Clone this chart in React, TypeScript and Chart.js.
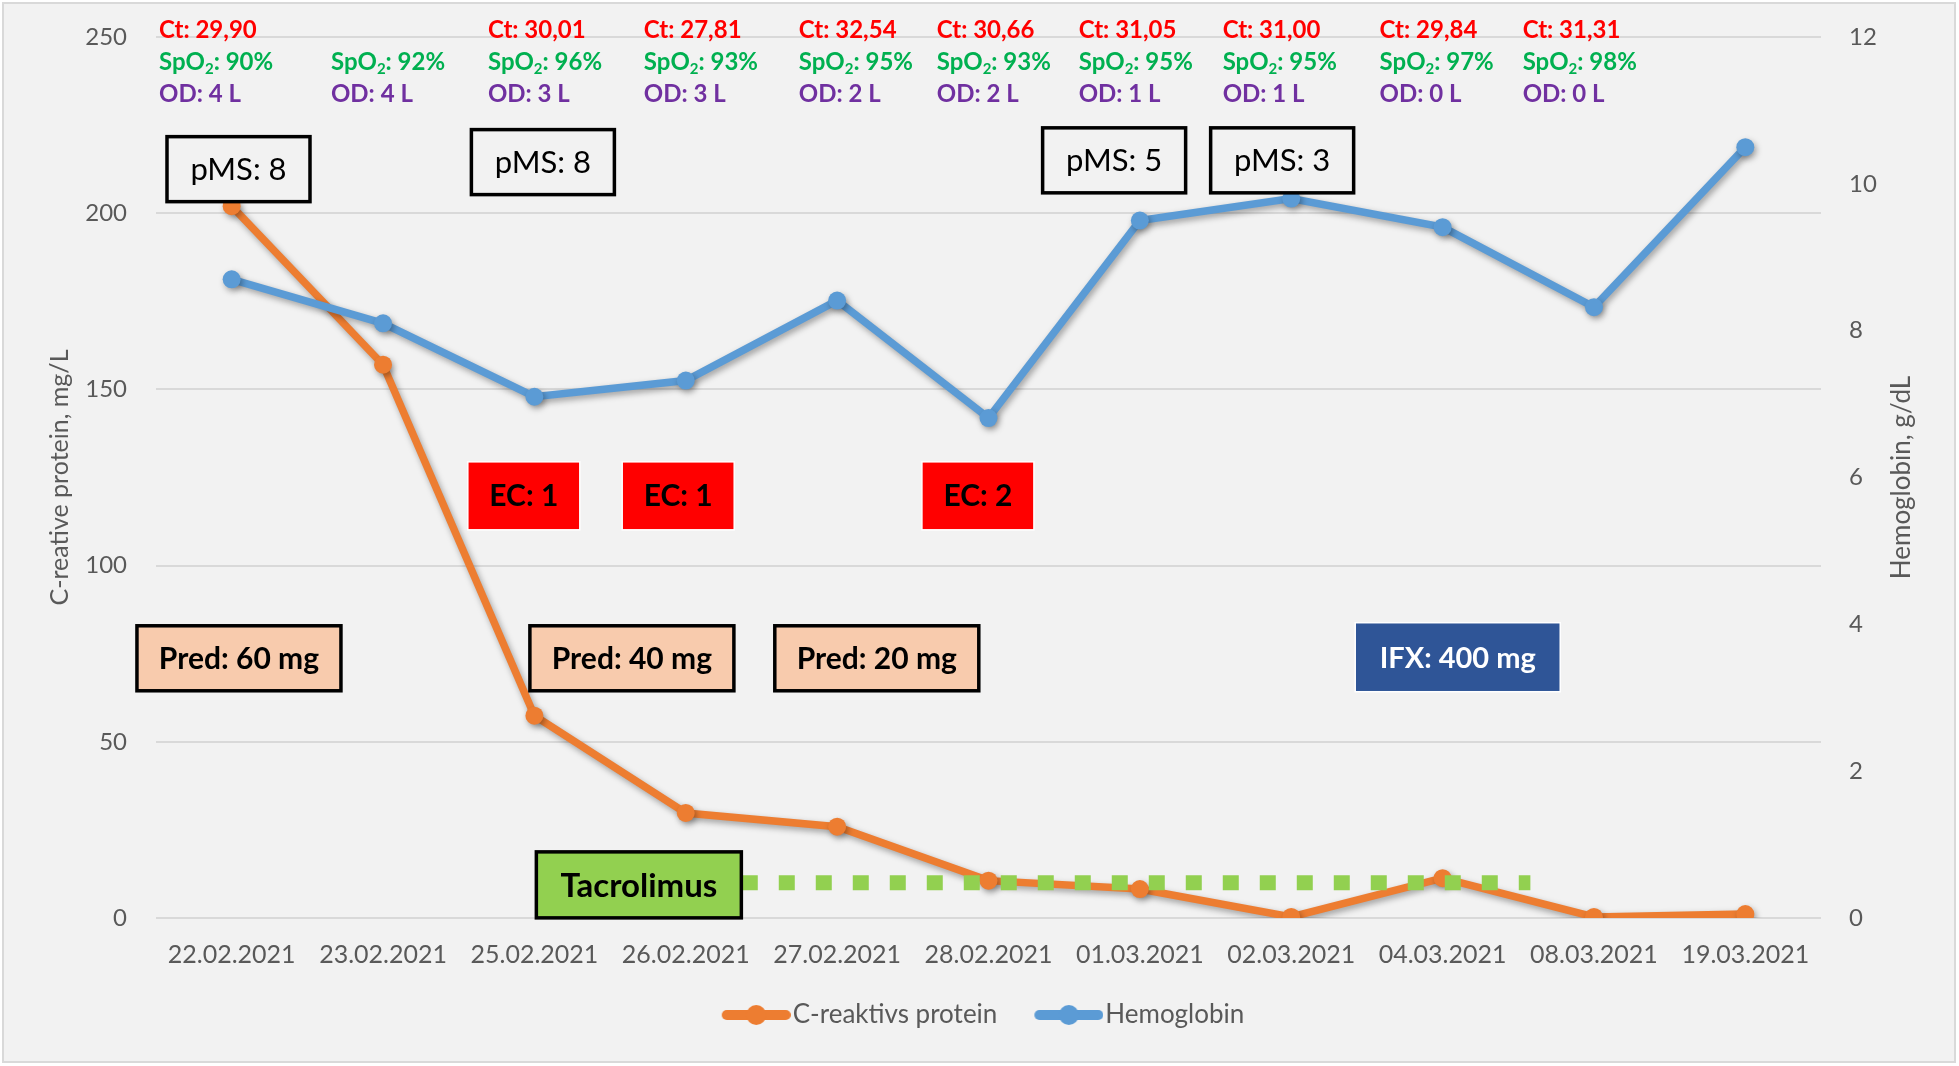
import React, { useEffect, useRef } from 'react';
import { Chart, registerables } from 'chart.js';

Chart.register(...registerables);

// ---------------- data ----------------
const dates = [
  '22.02.2021', '23.02.2021', '25.02.2021', '26.02.2021', '27.02.2021', '28.02.2021',
  '01.03.2021', '02.03.2021', '04.03.2021', '08.03.2021', '19.03.2021',
];
const crpValues = [202, 157, 57.4, 29.8, 25.9, 10.6, 8.2, 0.3, 11.3, 0.3, 1.1];
const hgbValues = [8.7, 8.1, 7.1, 7.32, 8.41, 6.81, 9.5, 9.8, 9.41, 8.32, 10.5];

const ctValues = ['29,90', '', '30,01', '27,81', '32,54', '30,66', '31,05', '31,00', '29,84', '31,31'];
const spo2Values = ['90%', '92%', '96%', '93%', '95%', '93%', '95%', '95%', '97%', '98%'];
const odValues = ['4 L', '4 L', '3 L', '3 L', '2 L', '2 L', '1 L', '1 L', '0 L', '0 L'];

const crpTicks = [0, 50, 100, 150, 200, 250];
const hgbTicks = [0, 2, 4, 6, 8, 10, 12];

// ---------------- annotation placement (category index / CRP units) ----------------
const infoColumnX = [-0.48, 0.656, 1.693, 2.723, 3.747, 4.658, 5.596, 6.547, 7.584, 8.529];

const pmsBoxes = [
  { text: 'pMS: 8', idx: 0.045, val: 212.5 },
  { text: 'pMS: 8', idx: 2.056, val: 214.5 },
  { text: 'pMS: 5', idx: 5.83, val: 215 },
  { text: 'pMS: 3', idx: 6.94, val: 215 },
];
const ecBoxes = [
  { text: 'EC: 1', idx: 1.93, val: 119.8 },
  { text: 'EC: 1', idx: 2.95, val: 119.8 },
  { text: 'EC: 2', idx: 4.93, val: 119.8 },
];
const predBoxes = [
  { text: 'Pred: 60 mg', idx: 0.048, val: 73.7 },
  { text: 'Pred: 40 mg', idx: 2.644, val: 73.7 },
  { text: 'Pred: 20 mg', idx: 4.262, val: 73.7 },
];
const ifxBox = { text: 'IFX: 400 mg', idx: 8.1, val: 74 };
const tacBox = { text: 'Tacrolimus', idx: 2.69, val: 9.4 };
const tacLine = { fromIdx: 3.37, toIdx: 8.58, val: 10 };

const FONT = 'Lato, "Open Sans", "DejaVu Sans", sans-serif';
const AXIS_COLOR = '#595959';
const ORANGE = '#ed7d31';
const BLUE = '#5b9bd5';

// legend swatch: transparent left margin (18px) + 69px line with marker
function makeLegendImg(color: string) {
  const c = document.createElement('canvas');
  c.width = 87;
  c.height = 22;
  const g = c.getContext('2d')!;
  g.strokeStyle = color;
  g.lineWidth = 10;
  g.lineCap = 'round';
  g.beginPath();
  g.moveTo(23, 11);
  g.lineTo(82, 11);
  g.stroke();
  g.fillStyle = color;
  g.beginPath();
  g.arc(52.5, 11, 10, 0, Math.PI * 2);
  g.fill();
  return c;
}

function drawBox(
  ctx: CanvasRenderingContext2D,
  cx: number, cy: number, w: number, h: number,
  fill: string, stroke: string | null, lw: number,
  text: string, font: string, color: string,
) {
  ctx.save();
  ctx.fillStyle = fill;
  ctx.fillRect(cx - w / 2, cy - h / 2, w, h);
  if (stroke) {
    ctx.strokeStyle = stroke;
    ctx.lineWidth = lw;
    ctx.strokeRect(cx - w / 2, cy - h / 2, w, h);
  }
  ctx.fillStyle = color;
  ctx.font = font;
  ctx.textAlign = 'center';
  ctx.textBaseline = 'middle';
  ctx.fillText(text, cx, cy + 1);
  ctx.restore();
}

const bgPlugin = {
  id: 'bgPlugin',
  beforeDraw(chart: any) {
    const { ctx, width, height } = chart;
    ctx.save();
    ctx.fillStyle = '#ffffff';
    ctx.fillRect(0, 0, width, height);
    ctx.fillStyle = '#f2f2f2';
    ctx.fillRect(3, 3, width - 7, height - 7);
    ctx.strokeStyle = '#d9d9d9';
    ctx.lineWidth = 2;
    ctx.strokeRect(3, 3, width - 7, height - 7);
    ctx.restore();
  },
};

const shadowPlugin = {
  id: 'shadowPlugin',
  beforeDatasetDraw(chart: any) {
    const ctx = chart.ctx;
    ctx.save();
    ctx.shadowColor = 'rgba(0,0,0,0.35)';
    ctx.shadowBlur = 6;
    ctx.shadowOffsetX = 2;
    ctx.shadowOffsetY = 3;
  },
  afterDatasetDraw(chart: any) {
    chart.ctx.restore();
  },
};

const annotationPlugin = {
  id: 'annotationPlugin',
  afterDatasetsDraw(chart: any) {
    const { ctx, chartArea } = chart;
    const xs = chart.scales.x;
    const ys = chart.scales.y;
    const px = (i: number) => xs.getPixelForValue(i);
    const py = (v: number) => ys.getPixelForValue(v);

    // right axis title (reads bottom-to-top)
    ctx.save();
    ctx.translate(1902, (chartArea.top + chartArea.bottom) / 2);
    ctx.rotate(-Math.PI / 2);
    ctx.font = `26px ${FONT}`;
    ctx.fillStyle = AXIS_COLOR;
    ctx.textAlign = 'center';
    ctx.textBaseline = 'middle';
    ctx.fillText('Hemoglobin, g/dL', 0, 0);
    ctx.restore();

    // Tacrolimus dotted line
    ctx.save();
    ctx.strokeStyle = '#92d050';
    ctx.lineWidth = 15;
    ctx.setLineDash([16, 21]);
    ctx.beginPath();
    ctx.moveTo(px(tacLine.fromIdx), py(tacLine.val));
    ctx.lineTo(px(tacLine.toIdx), py(tacLine.val));
    ctx.stroke();
    ctx.restore();

    // top info columns
    const bold = `bold 24px ${FONT}`;
    infoColumnX.forEach((ix, i) => {
      const x = px(ix);
      ctx.save();
      ctx.textAlign = 'left';
      ctx.textBaseline = 'middle';
      ctx.font = bold;
      if (ctValues[i]) {
        ctx.fillStyle = '#ff0000';
        ctx.fillText(`Ct: ${ctValues[i]}`, x, chartArea.top - 7);
      }
      // SpO2 with subscript
      const yS = chartArea.top + 25.5;
      ctx.fillStyle = '#00b050';
      ctx.fillText('SpO', x, yS);
      let w = ctx.measureText('SpO').width;
      ctx.font = `bold 15px ${FONT}`;
      ctx.fillText('2', x + w, yS + 7);
      w += ctx.measureText('2').width;
      ctx.font = bold;
      ctx.fillText(`: ${spo2Values[i]}`, x + w, yS);
      ctx.fillStyle = '#7030a0';
      ctx.fillText(`OD: ${odValues[i]}`, x, chartArea.top + 57.5);
      ctx.restore();
    });

    pmsBoxes.forEach((b) =>
      drawBox(ctx, px(b.idx), py(b.val), 143, 65, '#f2f2f2', '#000000', 3.5, b.text, `31px ${FONT}`, '#000000'));
    ecBoxes.forEach((b) =>
      drawBox(ctx, px(b.idx), py(b.val), 112, 68, '#ff0000', '#ffffff', 1.5, b.text, `bold 30px ${FONT}`, '#000000'));
    predBoxes.forEach((b) =>
      drawBox(ctx, px(b.idx), py(b.val), 204, 65, '#f8cbad', '#000000', 3.5, b.text, `bold 30px ${FONT}`, '#000000'));
    drawBox(ctx, px(ifxBox.idx), py(ifxBox.val), 205, 69, '#2f5597', '#ffffff', 1.5, ifxBox.text, `bold 29px ${FONT}`, '#ffffff');
    drawBox(ctx, px(tacBox.idx), py(tacBox.val), 205, 66, '#92d050', '#000000', 3.5, tacBox.text, `bold 33px ${FONT}`, '#000000');
  },
};

export default function App() {
  const canvasRef = useRef<HTMLCanvasElement | null>(null);

  useEffect(() => {
    document.body.style.margin = '0';
    const canvas = canvasRef.current;
    if (!canvas) return;
    const legendImgs = [makeLegendImg(ORANGE), makeLegendImg(BLUE)];

    const chart = new Chart(canvas, {
      type: 'line',
      data: {
        labels: dates,
        datasets: [
          {
            label: 'C-reaktivs protein',
            data: crpValues,
            yAxisID: 'y',
            borderColor: ORANGE,
            backgroundColor: ORANGE,
            borderWidth: 7.5,
            pointRadius: 9,
            pointBackgroundColor: ORANGE,
            pointBorderColor: ORANGE,
            pointBorderWidth: 0,
            tension: 0,
            order: 2,
          },
          {
            label: 'Hemoglobin',
            data: hgbValues,
            yAxisID: 'y1',
            borderColor: BLUE,
            backgroundColor: BLUE,
            borderWidth: 7.5,
            pointRadius: 9,
            pointBackgroundColor: BLUE,
            pointBorderColor: BLUE,
            pointBorderWidth: 0,
            tension: 0,
            order: 1,
          },
        ],
      },
      options: {
        animation: false,
        responsive: false,
        maintainAspectRatio: false,
        layout: { padding: { top: 37, left: 0, right: 0, bottom: 28 } },
        plugins: {
          tooltip: { enabled: false },
          legend: {
            position: 'bottom',
            labels: {
              usePointStyle: true,
              pointStyleWidth: 65,
              padding: 30,
              color: AXIS_COLOR,
              font: { family: FONT, size: 26 },
              sort: (a: any, b: any) => a.datasetIndex - b.datasetIndex,
              generateLabels: (ch: any) =>
                ch.data.datasets.map((ds: any, i: number) => ({
                  text: ds.label,
                  pointStyle: legendImgs[i],
                  fillStyle: ds.borderColor,
                  strokeStyle: ds.borderColor,
                  lineWidth: 0,
                  hidden: false,
                  datasetIndex: i,
                  fontColor: AXIS_COLOR,
                })),
            },
          },
        },
        scales: {
          x: {
            type: 'category',
            offset: true,
            grid: { display: false, drawTicks: false },
            border: { display: false },
            ticks: {
              color: AXIS_COLOR,
              font: { family: FONT, size: 25 },
              padding: 22,
              maxRotation: 0,
              autoSkip: false,
            },
            afterFit: (s: any) => { s.height = 54; },
          },
          y: {
            position: 'left',
            min: 0,
            max: 250,
            afterBuildTicks: (s: any) => { s.ticks = crpTicks.map((v) => ({ value: v })); },
            grid: { color: '#d9d9d9', lineWidth: 2, drawTicks: true, tickLength: 29, tickColor: 'rgba(0,0,0,0)' },
            border: { display: false },
            ticks: { color: AXIS_COLOR, font: { family: FONT, size: 24 }, padding: 0 },
            title: {
              display: true,
              text: 'C-reative protein, mg/L',
              color: AXIS_COLOR,
              font: { family: FONT, size: 25 },
              padding: { top: 45, bottom: 0 },
            },
            afterFit: (s: any) => { s.width = 156; },
          },
          y1: {
            position: 'right',
            min: 0,
            max: 12,
            afterBuildTicks: (s: any) => { s.ticks = hgbTicks.map((v) => ({ value: v })); },
            grid: { display: false, drawTicks: true, tickLength: 28 },
            border: { display: false },
            ticks: { color: AXIS_COLOR, font: { family: FONT, size: 24 }, padding: 0 },
            afterFit: (s: any) => { s.width = 138; },
          },
        },
      },
      plugins: [bgPlugin, shadowPlugin, annotationPlugin],
    } as any);

    return () => chart.destroy();
  }, []);

  return (
    <div style={{ width: 1959, height: 1066 }}>
      <canvas ref={canvasRef} width={1959} height={1066} style={{ display: 'block' }} />
    </div>
  );
}
